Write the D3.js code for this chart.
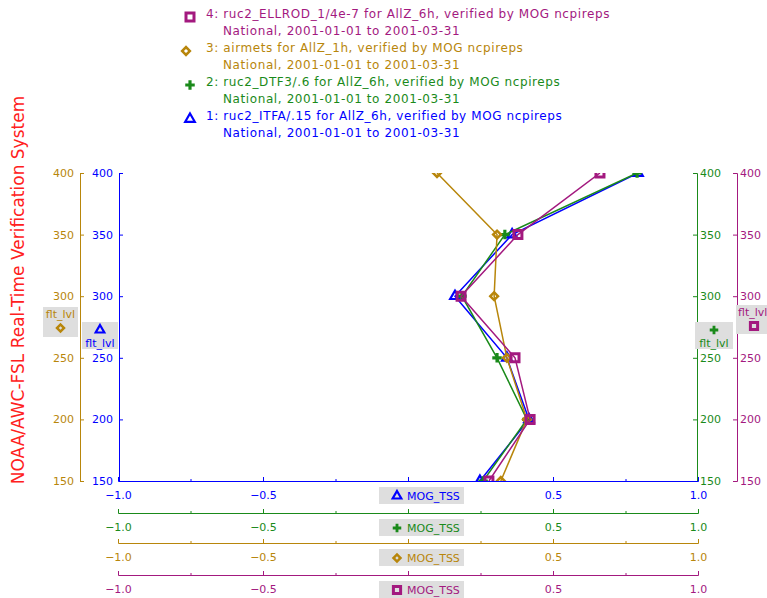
<!DOCTYPE html>
<html>
<head>
<meta charset="utf-8">
<script src="https://cdn.jsdelivr.net/npm/d3@7"></script>
<style>
  body { margin: 0; background: #fff; }
  svg text { font-family: "DejaVu Sans", sans-serif; }
</style>
</head>
<body>
<div id="chart-area"></div>
<script>
// flight levels (y) and TSS values (x) per series
var levels = [150, 200, 250, 300, 350, 400];
var itfaTss = [0.248, 0.417, 0.341, 0.162, 0.359, 0.793];
var dtf3Tss = [0.259, 0.410, 0.307, 0.186, 0.334, 0.790];
var airmetsTss = [0.320, 0.410, 0.341, 0.297, 0.307, 0.100];
var ellrodTss = [0.279, 0.421, 0.369, 0.183, 0.379, 0.662];

var legendNames = [
    "1: ruc2_ITFA/.15 for AllZ_6h, verified by MOG ncpireps",
    "2: ruc2_DTF3/.6 for AllZ_6h, verified by MOG ncpireps",
    "3: airmets for AllZ_1h, verified by MOG ncpireps",
    "4: ruc2_ELLROD_1/4e-7 for AllZ_6h, verified by MOG ncpireps"
];
var legendSub = "National, 2001-01-01 to 2001-03-31";
var xMajor = [-1, -0.5, 0, 0.5, 1];
var xMinor = [-0.75, -0.25, 0.25, 0.75];
var yTicks = [150, 200, 250, 300, 350, 400];

var colors = ["#0000ff", "#1a8a1a", "#b8860b", "#a3197f"];
var symbols = ["triangle", "plus", "diamond", "square"];
var values = [itfaTss, dtf3Tss, airmetsTss, ellrodTss];

var series = values.map((v, i) => ({
    name: legendNames[i],
    color: colors[i],
    symbol: symbols[i],
    points: levels.map((lv, j) => ({ level: lv, tss: v[j] }))
}));

var width = 767, height = 598;
var plot = { left: 118, right: 698, top: 173, bottom: 481 };

var svg = d3.select("#chart-area")
    .append("svg")
    .attr("width", width)
    .attr("height", height);

// SCALES
var x = d3.scaleLinear().domain([-1, 1]).range([plot.left, plot.right]);
var y = d3.scaleLinear().domain([150, 400]).range([plot.bottom, plot.top]);

// marker drawing
function marker(sel, sym, color, scale) {
    scale = scale || 1;
    if (sym == "square") {
        sel.append("path")
            .attr("d", d3.symbol(d3.symbolSquare, 64 * scale * scale)())
            .attr("fill", "none").attr("stroke", color).attr("stroke-width", 3);
    } else if (sym == "diamond") {
        sel.append("path")
            .attr("d", d3.symbol(d3.symbolSquare, 30 * scale * scale)())
            .attr("transform", "rotate(45)")
            .attr("fill", "none").attr("stroke", color).attr("stroke-width", 2.5);
    } else if (sym == "plus") {
        sel.append("path")
            .attr("d", d3.symbol(d3.symbolCross, 50 * scale * scale)())
            .attr("fill", color);
    } else {
        sel.append("path")
            .attr("d", d3.symbol(d3.symbolTriangle, 40 * scale * scale)())
            .attr("fill", "none").attr("stroke", color).attr("stroke-width", 2.2);
    }
}

// y title
svg.append("text")
    .attr("transform", "translate(24," + 290 + ") rotate(-90)")
    .attr("text-anchor", "middle")
    .attr("font-size", "17px")
    .attr("fill", "#ff2020")
    .text("NOAA/AWC-FSL Real-Time Verification System");

// LEGEND (4 at top)
var legend = svg.append("g");
series.slice().reverse().forEach((s, k) => {
    var base = 18 + k * 34;
    var g = legend.append("g");
    marker(g.append("g").attr("transform", "translate(" + (s.symbol == "diamond" ? 186 : 190) + "," + (base - 1) + ")"), s.symbol, s.color);
    g.append("text").attr("x", 206).attr("y", base)
        .attr("font-size", "12px").attr("letter-spacing", "0.6px")
        .attr("fill", s.color).text(s.name);
    g.append("text").attr("x", 223).attr("y", base + 17)
        .attr("font-size", "12px").attr("letter-spacing", "0.6px")
        .attr("fill", s.color).text(legendSub);
});

// Y AXES
var fmtY = d3.format("d");
var yPos = [
    { x: 80, side: "left", pad: 6 },
    { x: 119, side: "left", pad: 6 },
    { x: 697, side: "right", pad: 3 },
    { x: 737, side: "right", pad: 3 }
];
// order: brown, blue on left; green, magenta on right
var yAxisSeries = [2, 0, 1, 3];
yAxisSeries.forEach((si, k) => {
    var p = yPos[k];
    var ax = (p.side == "left" ? d3.axisLeft(y) : d3.axisRight(y))
        .tickValues(yTicks).tickFormat(fmtY)
        .tickSize(-4).tickPadding(p.pad);
    var g = svg.append("g")
        .attr("transform", "translate(" + p.x + ",0)")
        .call(ax);
    g.selectAll("path, line").attr("stroke", colors[si]);
    g.selectAll("text").attr("fill", colors[si]).attr("font-size", "11px")
        .attr("font-family", "DejaVu Sans, sans-serif");
});

// X AXES (blue at plot bottom, then green, brown, magenta)
var xRows = [481, 513, 543, 575];
var fmtX = (d) => d == 0 ? "" : d3.format(".1f")(d);
xRows.forEach((yy, si) => {
    var g = svg.append("g").attr("transform", "translate(0," + yy + ")");
    g.call(d3.axisBottom(x).tickValues(xMajor).tickFormat(fmtX).tickSize(-4).tickPadding(10));
    g.append("g").call(d3.axisBottom(x).tickValues(xMinor).tickFormat("").tickSize(-2))
        .select(".domain").remove();
    g.selectAll("path, line").attr("stroke", colors[si]);
    g.selectAll("text").attr("fill", colors[si]).attr("font-size", "11px")
        .attr("font-family", "DejaVu Sans, sans-serif");

    // grey label box in the middle
    var box = g.append("g").attr("transform", "translate(379,6)");
    box.append("rect").attr("width", 85).attr("height", 17).attr("fill", "#dedede");
    marker(box.append("g").attr("transform", "translate(18,9)"), symbols[si], colors[si], 0.9);
    box.append("text").attr("x", 28).attr("y", 13)
        .attr("text-anchor", "start")
        .attr("font-size", "11px").attr("fill", colors[si]).text("MOG_TSS");
});

// flt_lvl labels
var fltBoxes = [
    { si: 2, x: 43, y: 307, w: 35, h: 30, textTop: true },
    { si: 0, x: 82, y: 322, w: 36, h: 27, textTop: false },
    { si: 1, x: 695, y: 322, w: 38, h: 27, textTop: false },
    { si: 3, x: 736, y: 305, w: 38, h: 29, textTop: true }
];
fltBoxes.forEach((b) => {
    var g = svg.append("g").attr("transform", "translate(" + b.x + "," + b.y + ")");
    g.append("rect").attr("width", b.w).attr("height", b.h).attr("fill", "#dedede");
    var cx = b.w / 2;
    if (b.si == 3) cx = 18;
    var symY = b.textTop ? 21 : 8;
    var txtY = b.textTop ? 11 : 25;
    marker(g.append("g").attr("transform", "translate(" + cx + "," + symY + ")"), symbols[b.si], colors[b.si], 0.9);
    g.append("text").attr("x", b.si == 3 ? 2 : cx).attr("y", txtY)
        .attr("text-anchor", b.si == 3 ? "start" : "middle")
        .attr("font-size", "11px").attr("fill", colors[b.si]).text("flt_lvl");
});

// PLOT lines and markers, clipped to the plot region
svg.append("clipPath").attr("id", "plotclip")
    .append("rect")
    .attr("x", plot.left).attr("y", plot.top)
    .attr("width", plot.right - plot.left).attr("height", plot.bottom - plot.top);

var plotG = svg.append("g").attr("clip-path", "url(#plotclip)");
var line = d3.line().x((d) => x(d.tss)).y((d) => y(d.level));

series.forEach((s) => {
    plotG.append("path")
        .datum(s.points)
        .attr("d", line)
        .attr("fill", "none")
        .attr("stroke", s.color)
        .attr("stroke-width", 1.5);
    s.points.forEach((d) => {
        marker(plotG.append("g").attr("transform", "translate(" + x(d.tss) + "," + y(d.level) + ")"), s.symbol, s.color);
    });
});
</script>
</body>
</html>
